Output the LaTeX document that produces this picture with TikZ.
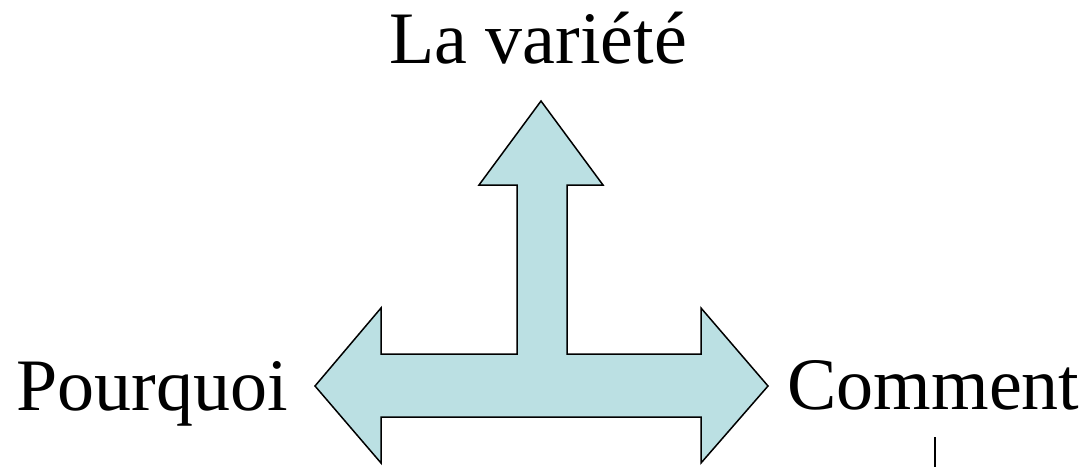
\documentclass[tikz,border=0pt]{standalone}
\usepackage{fontspec}
\setmainfont{Liberation Serif}
\definecolor{arrowfill}{RGB}{187,224,227}
\begin{document}
\begin{tikzpicture}[x=1pt,y=-1pt,
  lbl/.style={font=\fontsize{74}{80}\selectfont, inner sep=0pt, anchor=base},
  arrowshape/.style={fill=arrowfill, draw=black, line width=1.5pt, line join=miter}]
\useasboundingbox (0,0) rectangle (1089,467);
\draw[arrowshape] (541,101) -- (603,185) -- (567,185) -- (567,354) -- (701,354) -- (701,308)
  -- (768,386) -- (701,463) -- (701,417) -- (381,417) -- (381,463) -- (315,386)
  -- (381,308) -- (381,354) -- (517,354) -- (517,185) -- (479,185) -- cycle;
\node[lbl] (top) at (538,63) {La variété};
\node[lbl] (left) at (152.5,410) {Pourquoi};
\node[lbl] (right) at (933.5,409) {Comment};
\coordinate (c1) at (935,437);
\coordinate (c2) at (935,467);
\draw[line width=1.5pt] (c1) -- (c2);
\end{tikzpicture}
\end{document}
